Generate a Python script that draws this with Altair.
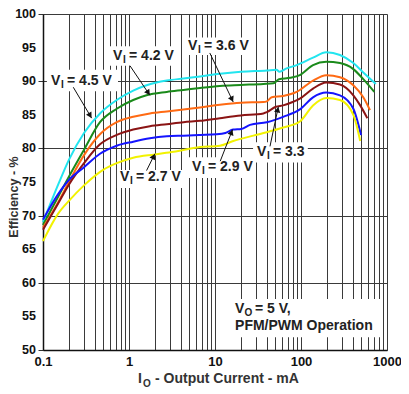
import math
import altair as alt
import pandas as pd

# ---------------- data ----------------
series_names = ["4.5 V", "4.2 V", "3.6 V", "3.3 V", "2.9 V", "2.7 V"]
series_colors = ["#22e5ef", "#1a8a1a", "#ff6a13", "#8b1414", "#1414ff", "#f2f200"]

x_45 = [0.1, 0.15, 0.2, 0.3, 0.46, 0.72, 1.12, 1.6, 2.75, 4.3, 6.7, 11.4, 20, 40, 52, 56, 68, 89, 138, 197, 284, 406, 530, 740]
y_45 = [69.0, 74.6, 78.3, 82.3, 85.2, 87.2, 88.6, 89.4, 90.1, 90.4, 90.7, 91.1, 91.4, 91.6, 91.7, 91.4, 91.9, 92.4, 93.5, 94.3, 93.9, 92.7, 91.3, 89.6]

x_42 = [0.1, 0.15, 0.2, 0.3, 0.46, 0.72, 1.12, 1.6, 2.75, 4.3, 6.7, 11.4, 20, 36.5, 47.8, 55.5, 75, 97, 138, 197, 284, 406, 530, 712]
y_42 = [68.6, 72.8, 75.8, 79.8, 83.9, 85.9, 87.2, 87.9, 88.4, 88.7, 89.0, 89.3, 89.45, 89.6, 89.7, 90.3, 90.5, 90.9, 92.4, 92.9, 92.7, 91.8, 90.3, 88.4]

x_36 = [0.1, 0.15, 0.2, 0.3, 0.46, 0.72, 1.12, 1.75, 2.75, 4.3, 6.7, 11.4, 20, 36.5, 40, 45.7, 62, 89, 138, 197, 284, 406, 530, 634]
y_36 = [68.2, 72.0, 75.0, 79.0, 82.1, 83.9, 84.7, 85.2, 85.5, 85.8, 86.1, 86.5, 86.8, 86.9, 87.0, 87.6, 87.8, 88.4, 90.1, 90.9, 90.6, 89.4, 87.6, 85.7]

x_33 = [0.1, 0.15, 0.2, 0.3, 0.46, 0.72, 1.12, 1.75, 2.75, 4.3, 6.7, 11.4, 20, 36.5, 40, 51, 62, 80, 97, 138, 197, 284, 406, 488, 590]
y_33 = [67.9, 71.8, 74.6, 77.8, 80.6, 82.0, 82.8, 83.3, 83.6, 83.9, 84.1, 84.5, 84.9, 85.2, 85.4, 86.2, 86.4, 86.9, 87.4, 88.9, 89.8, 89.5, 87.9, 86.4, 84.5]

x_29 = [0.1, 0.15, 0.2, 0.3, 0.46, 0.72, 1.12, 1.75, 2.75, 4.3, 6.7, 10.4, 13.2, 16.3, 20.2, 25.5, 40, 62, 97, 138, 197, 284, 406, 499]
y_29 = [69.4, 73.2, 75.3, 77.2, 79.2, 80.4, 81.0, 81.5, 81.8, 81.9, 82.0, 82.1, 82.3, 82.8, 82.9, 83.5, 83.9, 84.7, 85.8, 87.6, 88.3, 87.9, 85.9, 82.0]

x_27 = [0.1, 0.15, 0.2, 0.3, 0.5, 0.72, 1.12, 2.0, 3.3, 6.7, 11.4, 16.3, 27.9, 40, 62, 97, 138, 197, 284, 406, 488]
y_27 = [66.2, 70.3, 72.2, 74.5, 76.8, 77.8, 78.6, 79.1, 79.5, 80.2, 80.4, 81.1, 81.9, 82.4, 83.1, 84.0, 86.4, 87.5, 87.2, 85.0, 81.1]

x_ticks = ["0.1", "1", "10", "100", "1000"]
y_ticks = [50, 55, 60, 65, 70, 75, 80, 85, 90, 95, 100]

# annotation labels
label_x = [0.124, 0.652, 4.85, 30.8, 5.4, 0.786]
label_y = [90.1, 93.75, 95.2, 79.5, 77.2, 75.7]
label_rest = ["= 4.5 V", "= 4.2 V", "= 3.6 V", "= 3.3", "= 2.9 V", "= 2.7 V"]

# white boxes behind the labels
box_x1 = [0.111, 0.585, 4.48, 27.7, 4.85, 0.724, 15.8]
box_x2 = [0.745, 3.33, 28.4, 120, 28.4, 4.37, 897]
box_y1 = [91.7, 95.2, 96.5, 80.9, 78.7, 76.8, 57.6]
box_y2 = [88.5, 92.3, 93.9, 77.9, 75.6, 74.1, 51.9]

# arrows: base -> tip
arrow_bx = [0.225, 1.026, 8.7, 43.6, 11.5, 1.6]
arrow_by = [89.1, 92.3, 94.2, 80.3, 78.1, 76.7]
arrow_tx = [0.368, 1.75, 16.3, 54.5, 16.0, 2.0]
arrow_ty = [84.5, 87.9, 86.9, 86.2, 82.8, 79.2]

# ---------------- build tables ----------------
W, H = 344, 336
TOP = 6
PX_DEC = W / 4.0
PX_PCT = H / 50.0
FONT = "Liberation Sans"

rows = []
for name, xs, ys in zip(series_names,
                        [x_45, x_42, x_36, x_33, x_29, x_27],
                        [y_45, y_42, y_36, y_33, y_29, y_27]):
    for i, (a, b) in enumerate(zip(xs, ys)):
        rows.append({"series": name, "x": a, "y": b, "o": i})
df = pd.DataFrame(rows)

boxes = pd.DataFrame({"x1": box_x1, "x2": box_x2, "y1": box_y1, "y2": box_y2})
arrows = pd.DataFrame({"bx": arrow_bx, "by": arrow_by, "tx": arrow_tx, "ty": arrow_ty})

heads = []
for bx, by, tx, ty in zip(arrow_bx, arrow_by, arrow_tx, arrow_ty):
    dx = (math.log10(tx) - math.log10(bx)) * PX_DEC
    dy = -(ty - by) * PX_PCT
    L = math.hypot(dx, dy)
    ux, uy = dx / L, dy / L
    ang = math.degrees(math.atan2(ux, -uy)) % 360
    back = 3.0
    hx = 10 ** (math.log10(tx) - back * ux / PX_DEC)
    hy = ty + back * uy / PX_PCT
    heads.append({"x": hx, "y": hy, "angle": ang})
heads = pd.DataFrame(heads)

labels = pd.DataFrame({"x": label_x, "y": label_y, "rest": label_rest})
vo = pd.DataFrame({"x": [17.1], "y": [56.1], "y2": [53.5]})
ylab = pd.DataFrame({"y": y_ticks})

grid_vals = [m * 10 ** e for e in range(-1, 3) for m in range(1, 10)] + [1000]
tick_list = "[" + ",".join("'%s'" % t for t in x_ticks) + "]"

xscale = alt.Scale(type="log", domain=[0.1, 1000], nice=False)
yscale = alt.Scale(domain=[50, 100], nice=False, zero=False)


def X(field):
    return alt.X(field, scale=xscale, title=None)


def Y(field):
    return alt.Y(field, scale=yscale, title=None)


x_axis = alt.Axis(values=grid_vals, format="~g",
                  labelExpr="indexof(" + tick_list + ", datum.label) >= 0 ? datum.label : ''",
                  title=None, ticks=False, labelOverlap=False, labelFlush=False,
                  grid=True, gridColor="#3a3a3a", gridWidth=1,
                  labelFont=FONT, labelFontSize=13, labelFontWeight="bold",
                  labelColor="#111", labelPadding=5,
                  domainColor="#111", domainWidth=1.5)
y_axis = alt.Axis(values=y_ticks, title=None, labels=False,
                  grid=True, gridColor="#3a3a3a", gridWidth=1,
                  ticks=True, tickSize=5, tickColor="#333",
                  domainColor="#111", domainWidth=1.5)

axes_holder = alt.Chart(df).mark_point(opacity=0).encode(
    x=alt.X("x:Q", scale=xscale, title=None, axis=x_axis),
    y=alt.Y("y:Q", scale=yscale, title=None, axis=y_axis))

# y tick labels drawn as text so every 5 % step is shown
y_labels = alt.Chart(ylab).mark_text(font=FONT, fontSize=12.5, fontWeight="bold", color="#111",
                                     align="right", baseline="middle", dx=-7).encode(
    x=alt.value(0), y=Y("y:Q"), text=alt.Text("y:Q", format="d"))

rects = alt.Chart(boxes).mark_rect(color="white").encode(
    x=X("x1:Q"), x2="x2:Q", y=Y("y1:Q"), y2="y2:Q")

lines = alt.Chart(df).mark_line(strokeWidth=2, interpolate="monotone").encode(
    x=X("x:Q"), y=Y("y:Q"),
    color=alt.Color("series:N", scale=alt.Scale(domain=series_names, range=series_colors), legend=None),
    order="o:Q")

arrow_lines = alt.Chart(arrows).mark_rule(color="#111", strokeWidth=1).encode(
    x=X("bx:Q"), x2="tx:Q", y=Y("by:Q"), y2="ty:Q")

arrow_heads = alt.Chart(heads).mark_point(shape="triangle-up", filled=True, color="#111", size=40, opacity=1).encode(
    x=X("x:Q"), y=Y("y:Q"), angle=alt.Angle("angle:Q", scale=None))

txt_style = dict(font=FONT, fontWeight="bold", color="#222", baseline="middle", align="left")
lbl_v = alt.Chart(labels).mark_text(text="V", fontSize=14, **txt_style).encode(x=X("x:Q"), y=Y("y:Q"))
lbl_sub = alt.Chart(labels).mark_text(text="I", fontSize=10, dx=10, dy=4, **txt_style).encode(x=X("x:Q"), y=Y("y:Q"))
lbl_rest = alt.Chart(labels).mark_text(fontSize=14, dx=16, **txt_style).encode(x=X("x:Q"), y=Y("y:Q"), text="rest:N")

vo_v = alt.Chart(vo).mark_text(text="V", fontSize=14, **txt_style).encode(x=X("x:Q"), y=Y("y:Q"))
vo_sub = alt.Chart(vo).mark_text(text="O", fontSize=10, dx=9.5, dy=4, **txt_style).encode(x=X("x:Q"), y=Y("y:Q"))
vo_rest = alt.Chart(vo).mark_text(text="= 5 V,", fontSize=14, dx=20, **txt_style).encode(x=X("x:Q"), y=Y("y:Q"))
vo_line2 = alt.Chart(vo).mark_text(text="PFM/PWM Operation", fontSize=14, **txt_style).encode(x=X("x:Q"), y=Y("y2:Q"))

title_style = dict(font=FONT, fontWeight="bold", color="#333")
TY = 383 - 8 - TOP  # title baseline relative to plot top
ytitle = alt.Chart(vo).mark_text(text="Efficiency - %", fontSize=12.5, angle=270,
                                 align="center", baseline="top", **title_style).encode(
    x=alt.value(-35), y=alt.value(197 - 8 - TOP))
xt_i = alt.Chart(vo).mark_text(text="I", fontSize=14, align="left", baseline="alphabetic", **title_style).encode(
    x=alt.value(95), y=alt.value(TY))
xt_o = alt.Chart(vo).mark_text(text="O", fontSize=10, align="left", baseline="alphabetic", **title_style).encode(
    x=alt.value(100), y=alt.value(TY + 4))
xt_rest = alt.Chart(vo).mark_text(text="- Output Current - mA", fontSize=14, align="left", baseline="alphabetic", **title_style).encode(
    x=alt.value(112), y=alt.value(TY))

chart = alt.layer(
    axes_holder, rects, lines, arrow_lines, arrow_heads,
    lbl_v, lbl_sub, lbl_rest, vo_v, vo_sub, vo_rest, vo_line2,
    y_labels, ytitle, xt_i, xt_o, xt_rest
).properties(
    width=W, height=H,
    autosize=alt.AutoSizeParams(type="none"),
    padding={"left": 35, "top": TOP, "right": 14, "bottom": 42},
).configure_view(
    stroke="#111", strokeWidth=1.5
).configure(background="white")

chart.save("out.html", embed_options={"renderer": "svg", "actions": False})
